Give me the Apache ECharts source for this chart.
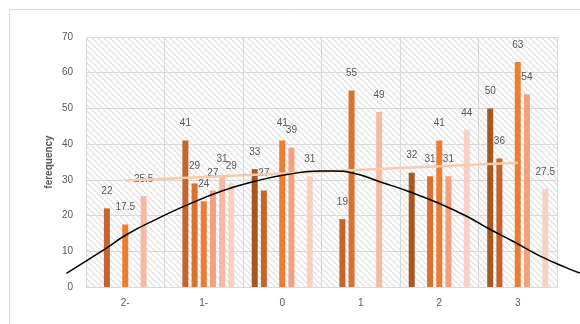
<!DOCTYPE html>
<html><head><meta charset="utf-8">
<script src="https://cdn.jsdelivr.net/npm/echarts@6/dist/echarts.min.js"></script>
<style>html,body{margin:0;padding:0;background:#fff}#c{width:580px;height:324px}</style>
</head><body><div id="c"></div>
<script>
// Categories and tick labels
const categories = ['2-', '1-', '0', '1', '2', '3'];
const yTicks = { min: 0, max: 70, interval: 10 };

// Bar series values (7 series, null = no bar)
const s0 = [null, null, 33, null, 32, 50];
const s1 = [22, 41, 27, 19, null, 36];
const s2 = [null, 29, null, 55, 31, null];
const s3 = [17.5, 24, 41, null, 41, 63];
const s4 = [null, 27, 39, null, 31, 54];
const s5 = [25.5, 31, null, 49, null, null];
const s6 = [null, 29, 31, null, 44, 27.5];

// Pink trend line values per category
const trendValues = [29.8, 30.8, 31.8, 32.8, 33.8, 34.8];

// Black curve points (x in category units: 2- = -2 ... 3 = 3)
const curveX = [-2.75, -2.28, -1.98, -1.6, -1.24, -0.77, -0.35, 0.06, 0.48, 0.65, 0.9, 1.28, 1.63, 2.01, 2.35, 2.65, 2.94, 3.28, 3.63, 3.79];
const curveY = [3.8, 10.3, 14.7, 19.0, 22.7, 26.9, 29.6, 31.5, 32.5, 32.5, 31.9, 29.2, 26.6, 23.3, 19.8, 16.1, 12.8, 8.7, 5.3, 3.9];

const barSeries = [s0, s1, s2, s3, s4, s5, s6];
const barColors = ['#a9561f', '#c4652c', '#da712f', '#ed7d31', '#f1a17e', '#f5baa5', '#f8d0c4'];

// layout of the plot area
const W = 580, GL = 86, GR = 23;
const catW = (W - GL - GR) / categories.length;
// wide overlay axis so the curve can run past the plot edges
const ovMin = -2.5 - GL / catW;
const ovMax = 3.5 + GR / catW;

// hatch pattern
const pc = document.createElement('canvas');
pc.width = 6; pc.height = 6;
const g = pc.getContext('2d');
g.fillStyle = '#ffffff'; g.fillRect(0, 0, 6, 6);
g.strokeStyle = '#dedede'; g.lineWidth = 1.2;
g.beginPath();
g.moveTo(-1, -1); g.lineTo(7, 7);
g.moveTo(-1, 5); g.lineTo(1, 7);
g.moveTo(5, -1); g.lineTo(7, 1);
g.stroke();

const font = 'Liberation Sans, Arial, sans-serif';
const chart = echarts.init(document.getElementById('c'), null, { renderer: 'canvas' });

const series = barSeries.map((d, i) => ({
  type: 'bar',
  data: d,
  barWidth: 6,
  barGap: '53%',
  itemStyle: { color: barColors[i] },
  label: { show: true, position: 'top', distance: 12, color: '#595959', fontSize: 10, fontFamily: font }
}));

series.push({
  type: 'line',
  data: trendValues,
  symbol: 'none',
  lineStyle: { color: '#f8cbad', width: 2.5 },
  z: 3
});

series.push({
  type: 'line',
  xAxisIndex: 2,
  yAxisIndex: 1,
  data: curveX.map((x, i) => [x, curveY[i]]),
  smooth: true,
  symbol: 'none',
  clip: false,
  lineStyle: { color: '#000000', width: 1.5 },
  z: 4
});

chart.setOption({
  animation: false,
  backgroundColor: '#ffffff',
  grid: [
    { left: GL, right: GR, top: 37, bottom: 37, show: true, borderWidth: 0,
      backgroundColor: { image: pc, repeat: 'repeat' } },
    { left: 0, right: 0, top: 37, bottom: 37, show: false }
  ],
  graphic: [{ type: 'rect', left: 7, top: 7, shape: { width: 620, height: 400 },
              style: { fill: 'none', stroke: '#d9d9d9', lineWidth: 1 }, silent: true }],
  xAxis: [{
    type: 'category', data: categories, boundaryGap: true, gridIndex: 0,
    axisLine: { show: true, lineStyle: { color: '#d9d9d9' } },
    axisTick: { show: false },
    axisLabel: { color: '#595959', fontSize: 10, margin: 11, fontFamily: font },
    splitLine: { show: true, lineStyle: { color: '#d9d9d9', width: 1 } }
  }, {
    type: 'value', min: -2.5, max: 3.5, show: false, gridIndex: 0
  }, {
    type: 'value', min: ovMin, max: ovMax, show: false, gridIndex: 1
  }],
  yAxis: [{
    type: 'value', min: yTicks.min, max: yTicks.max, interval: yTicks.interval, gridIndex: 0,
    name: 'ferequency', nameLocation: 'middle', nameGap: 32, nameMoveOverlap: false,
    nameTextStyle: { color: '#595959', fontSize: 10, fontWeight: 'bold', fontFamily: font },
    axisLine: { show: false }, axisTick: { show: false },
    axisLabel: { color: '#595959', fontSize: 10, margin: 13, fontFamily: font },
    splitLine: { show: true, lineStyle: { color: '#d9d9d9', width: 1 } }
  }, {
    type: 'value', min: yTicks.min, max: yTicks.max, show: false, gridIndex: 1
  }],
  series: series
});
</script></body></html>
